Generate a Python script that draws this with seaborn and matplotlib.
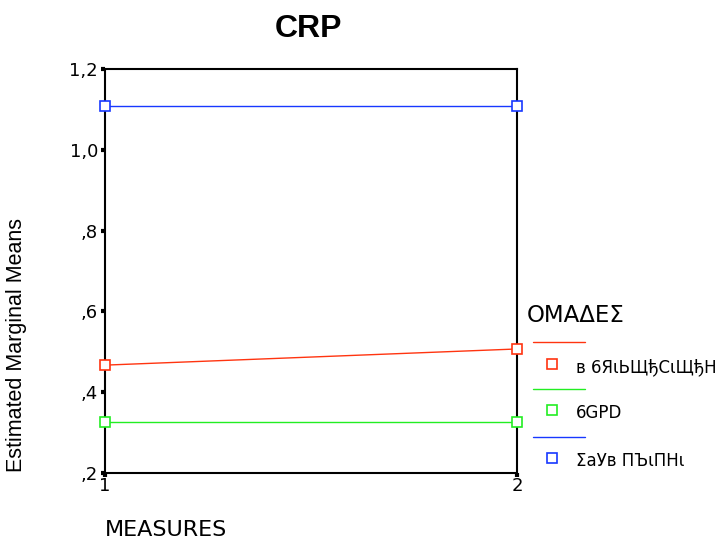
"""Estimated marginal means plot for CRP (SPSS-style profile plot)."""

import matplotlib
matplotlib.use("Agg")
import matplotlib.pyplot as plt
import pandas as pd
import seaborn as sns
from matplotlib.lines import Line2D

measures = [1, 2]
groups = ["в 6ЯιЬЩђСιЩђН", "6GPD", "ΣaУв ПЪιПНι"]
means = {
    "в 6ЯιЬЩђСιЩђН": [0.467, 0.507],
    "6GPD": [0.326, 0.326],
    "ΣaУв ПЪιПНι": [1.108, 1.108],
}
colors = ["#ff3410", "#22ee22", "#1838ff"]
yticks = [0.2, 0.4, 0.6, 0.8, 1.0, 1.2]
yticklabels = [",2", ",4", ",6", ",8", "1,0", "1,2"]

rows = []
for g in groups:
    for m, v in zip(measures, means[g]):
        rows.append({"MEASURES": m, "mean": v, "group": g})
df = pd.DataFrame(rows)

sns.set_style("white")
plt.rcParams["font.family"] = ["DejaVu Sans"]
plt.rcParams["text.color"] = "black"
plt.rcParams["axes.labelcolor"] = "black"
plt.rcParams["xtick.color"] = "black"
plt.rcParams["ytick.color"] = "black"

fig = plt.figure(figsize=(7.22, 5.44), dpi=100)
ax = fig.add_axes([105 / 722, 1 - 473 / 544, 412 / 722, 404 / 544])

for g, c in zip(groups, colors):
    sns.lineplot(data=df[df["group"] == g], x="MEASURES", y="mean", ax=ax,
                 color=c, lw=1, marker="s", markersize=6.5, mfc="white",
                 mec=c, mew=1.2, legend=False, clip_on=False, zorder=3)

ax.set_xlim(1, 2)
ax.set_ylim(0.2, 1.2)
ax.set_xticks(measures)
ax.set_xticklabels([str(m) for m in measures], fontsize=13)
ax.set_yticks(yticks)
ax.set_yticklabels(yticklabels, fontsize=13)
ax.tick_params(axis="both", bottom=True, left=True, length=3, width=3,
               direction="out", pad=2, color="black")
ax.tick_params(axis="x", pad=0)
for s in ax.spines.values():
    s.set_color("black")
    s.set_linewidth(1.5)

ax.set_xlabel("MEASURES", fontsize=16, va="center")
ax.xaxis.set_label_coords(0.0, -0.14)
ax.xaxis.label.set_horizontalalignment("left")
ax.set_ylabel("Estimated Marginal Means", fontsize=15.5, fontfamily="Liberation Sans")
ax.yaxis.set_label_coords(-0.19, 0.317)

fig.text(308 / 722, 1 - 29 / 544, "CRP", fontsize=23, ha="center", va="center",
         fontweight="bold", fontfamily="Liberation Sans")

# legend, SPSS layout: line on one row, marker + label on the next
fig.text(527 / 722, 1 - 315 / 544, "ΟΜΑΔΕΣ", fontsize=16.5, ha="left",
         va="center")
line_y = [342, 389, 437]
lab_y = [364, 410, 458]
for g, c, ly, ty in zip(groups, colors, line_y, lab_y):
    fig.add_artist(Line2D([533 / 722, 585 / 722], [1 - ly / 544] * 2,
                          color=c, lw=1, transform=fig.transFigure))
    fig.add_artist(Line2D([552 / 722], [1 - ty / 544], marker="s",
                          markersize=6.5, mfc="white", mec=c, mew=1.2,
                          transform=fig.transFigure))
    fig.text(576 / 722, 1 - (ty + 3) / 544, g, fontsize=12, ha="left",
             va="center")

fig.savefig("out.png", dpi=100)
